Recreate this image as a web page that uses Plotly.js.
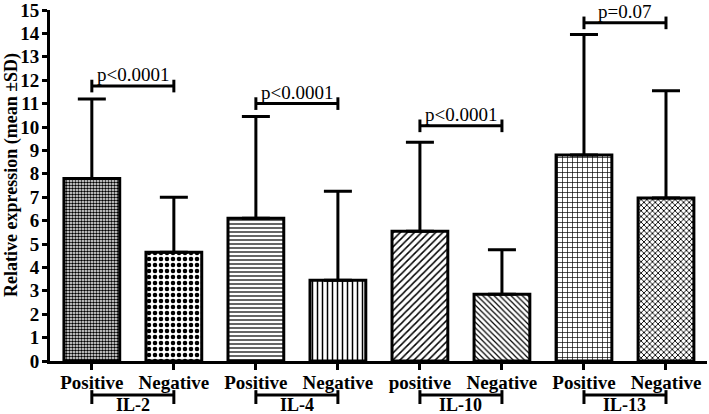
<!DOCTYPE html>
<html>
<head>
<meta charset="utf-8">
<script src="https://cdn.plot.ly/plotly-3.0.1.min.js"></script>
<style>html,body{margin:0;padding:0;background:#fff;}#chart{width:709px;height:414px;}</style>
</head>
<body>
<div id="chart"></div>
<script>
// ---- data ----
const barLabels = ["Positive", "Negative", "Positive", "Negative", "positive", "Negative", "Positive", "Negative"];
const means     = [7.8, 4.65, 6.1, 3.45, 5.55, 2.85, 8.8, 6.97];
const sdUpper   = [11.2, 7.0, 10.45, 7.25, 9.35, 4.75, 13.95, 11.55];
const groups    = ["IL-2", "IL-4", "IL-10", "IL-13"];
const pTexts    = ["p<0.0001", "p<0.0001", "p<0.0001", "p=0.07"];
const pBracketY = [11.75, 11.0, 10.05, 14.45];
const yTicks    = [0, 1, 2, 3, 4, 5, 6, 7, 8, 9, 10, 11, 12, 13, 14, 15];
const yTitle    = "Relative expression (mean ±SD)";
const patterns  = [".", ".", "-", "|", "/", "\\", "+", "x"];
const patSizes  = [3, 6, 4, 5, 5, 4, 5, 4];
const patSolid  = [0.55, 0.45, 0.3, 0.3, 0.3, 0.3, 0.25, 0.4];

const xs = barLabels.map((_, i) => i);
const errs = means.map((m, i) => sdUpper[i] - m);
const FONT = "Liberation Serif";
const B = s => "<b>" + s + "</b>";

const trace = {
  type: "bar",
  x: xs,
  y: means,
  width: 0.68,
  marker: {
    color: "#ffffff",
    line: {color: "#000", width: 3},
    pattern: {shape: patterns, size: patSizes, solidity: patSolid, fgcolor: "#000", bgcolor: "#fff"}
  },
  error_y: {type: "data", symmetric: false, array: errs, arrayminus: means.map(() => 0),
            color: "#000", thickness: 3, width: 14},
  hoverinfo: "skip"
};

const shapes = [];
const annotations = [];
groups.forEach((g, k) => {
  const a = 2 * k, b = 2 * k + 1;
  const y = pBracketY[k];
  shapes.push({type: "line", xref: "x", yref: "y", x0: a, x1: b, y0: y, y1: y, line: {color: "#000", width: 3}});
  shapes.push({type: "line", xref: "x", yref: "y", x0: a, x1: a, y0: y - 0.27, y1: y + 0.27, line: {color: "#000", width: 3}});
  shapes.push({type: "line", xref: "x", yref: "y", x0: b, x1: b, y0: y - 0.27, y1: y + 0.27, line: {color: "#000", width: 3}});
  annotations.push({x: (a + b) / 2, y: y, xref: "x", yref: "y", text: pTexts[k], showarrow: false,
                    yanchor: "bottom", yshift: -1, font: {family: FONT, size: 19, color: "#000"}});
  shapes.push({type: "line", xref: "x", yref: "paper", x0: a, x1: b, y0: -0.097, y1: -0.097, line: {color: "#000", width: 3}});
  shapes.push({type: "line", xref: "x", yref: "paper", x0: a, x1: a, y0: -0.083, y1: -0.1225, line: {color: "#000", width: 3}});
  shapes.push({type: "line", xref: "x", yref: "paper", x0: b, x1: b, y0: -0.083, y1: -0.1225, line: {color: "#000", width: 3}});
  annotations.push({x: (a + b) / 2, y: -0.125, xref: "x", yref: "paper", text: B(g), showarrow: false,
                    yanchor: "middle", font: {family: FONT, size: 18, color: "#000"}});
});

// y-axis title placed as a rotated annotation (centred like the reference)
annotations.push({x: 0, xref: "paper", xanchor: "center", xshift: -38, y: 0.53, yref: "paper",
                  text: B(yTitle), textangle: -90, showarrow: false,
                  font: {family: FONT, size: 18, color: "#000"}});

const layout = {
  width: 709, height: 414,
  margin: {l: 50, r: 2, t: 10, b: 53},
  paper_bgcolor: "#fff", plot_bgcolor: "#fff",
  showlegend: false,
  font: {family: FONT, color: "#000"},
  xaxis: {
    range: [-0.51, 7.5], tickvals: xs, ticktext: barLabels.map(B),
    showline: true, linecolor: "#000", linewidth: 3, showgrid: false, zeroline: false,
    ticks: "outside", ticklen: 6, tickwidth: 3, tickcolor: "#000", ticklabelstandoff: -4,
    ticklabeloverflow: "allow",
    tickfont: {family: FONT, size: 19, color: "#000"}
  },
  yaxis: {
    range: [0, 15], tickvals: yTicks, ticktext: yTicks.map(v => B(String(v))),
    showline: true, linecolor: "#000", linewidth: 3, showgrid: false, zeroline: false,
    ticks: "outside", ticklen: 5, tickwidth: 3, tickcolor: "#000", ticklabelstandoff: -1,
    ticklabeloverflow: "allow",
    tickfont: {family: FONT, size: 19, color: "#000"}
  },
  shapes: shapes,
  annotations: annotations
};

Plotly.newPlot("chart", [trace], layout, {displayModeBar: false, staticPlot: true});
</script>
</body>
</html>
